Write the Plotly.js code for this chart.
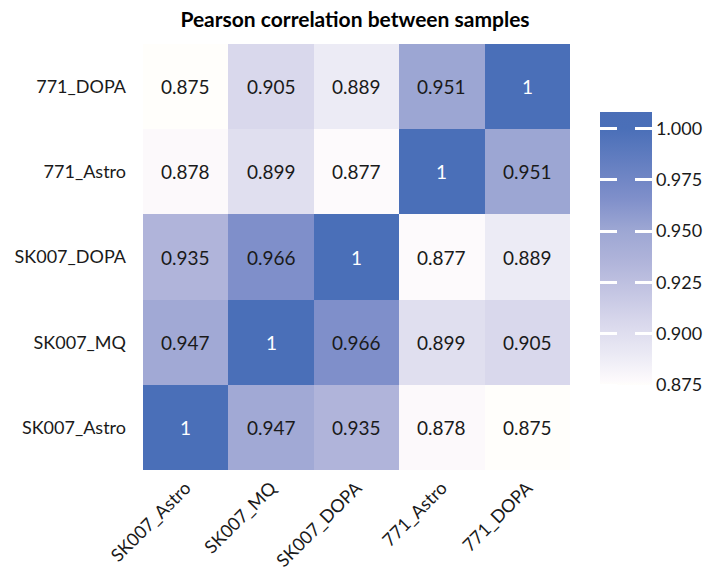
<!DOCTYPE html>
<html><head><meta charset="utf-8">
<script src="https://cdn.plot.ly/plotly-3.0.1.min.js"></script>
<style>body{margin:0;background:#fff}</style>
</head><body><div id="chart" style="width:710px;height:571px"></div>
<script>
const xLabels = ["SK007_Astro","SK007_MQ","SK007_DOPA","771_Astro","771_DOPA"];
const yLabels = ["SK007_Astro","SK007_MQ","SK007_DOPA","771_Astro","771_DOPA"];
const rowSK007_Astro = [1, 0.947, 0.935, 0.878, 0.875];
const rowSK007_MQ    = [0.947, 1, 0.966, 0.899, 0.905];
const rowSK007_DOPA  = [0.935, 0.966, 1, 0.877, 0.889];
const row771_Astro   = [0.878, 0.899, 0.877, 1, 0.951];
const row771_DOPA    = [0.875, 0.905, 0.889, 0.951, 1];
const colorTicks = [0.875, 0.9, 0.925, 0.95, 0.975, 1.0];

const z = [rowSK007_Astro, rowSK007_MQ, rowSK007_DOPA, row771_Astro, row771_DOPA];
const FONT = "Lato, 'Source Sans Pro', 'Noto Sans', sans-serif";
const zmin = 0.875, zmax = 1.008;
const colorscale = [
  [0, '#fffefb'], [0.015, '#fdfafc'], [0.105, '#ecebf5'], [0.226, '#d9d8ec'],
  [0.451, '#b0b4da'], [0.571, '#9ca6d3'], [0.684, '#7f8fca'], [0.94, '#4a6fb8'], [1, '#4a6eb7']
];

const annotations = [];
z.forEach((row, i) => row.forEach((v, j) => {
  annotations.push({x: xLabels[j], y: yLabels[i], text: String(v), showarrow: false,
    font: {family: FONT, size: 19, color: v >= 0.99 ? '#ffffff' : '#1a1a1a'}});
}));

const cbx = (600 - 143) / 427;
const cby = (470 - 248.5) / 426;
const traces = [
  {type: 'heatmap', x: xLabels, y: yLabels, z: z, zmin: zmin, zmax: zmax,
   colorscale: colorscale, xgap: 0, ygap: 0, hoverinfo: 'skip',
   colorbar: {x: cbx, xanchor: 'left', xpad: 0, y: cby, yanchor: 'middle', ypad: 0,
     thickness: 52, thicknessmode: 'pixels', len: 273, lenmode: 'pixels',
     outlinewidth: 0, tickvals: colorTicks, tickformat: '.3f',
     ticks: 'inside', ticklen: 17, tickwidth: 3, tickcolor: '#ffffff',
     tickfont: {family: FONT, size: 18, color: '#1a1a1a'}}},
  {type: 'heatmap', x: xLabels, y: yLabels, z: z, zmin: zmin, zmax: zmax,
   colorscale: colorscale, opacity: 0, hoverinfo: 'skip',
   colorbar: {x: cbx, xanchor: 'left', xpad: 0, y: cby, yanchor: 'middle', ypad: 0,
     thickness: 0, thicknessmode: 'pixels', len: 273, lenmode: 'pixels',
     outlinewidth: 0, tickvals: colorTicks, showticklabels: false,
     ticks: 'outside', ticklen: 17, tickwidth: 3, tickcolor: '#ffffff'}}
];

const layout = {
  width: 710, height: 571,
  margin: {l: 143, r: 140, t: 44, b: 101, autoexpand: false},
  paper_bgcolor: '#ffffff', plot_bgcolor: '#ffffff',
  font: {family: FONT, size: 18, color: '#1a1a1a'},
  title: {text: '<b>Pearson correlation between samples</b>', x: 0.5, xanchor: 'center',
    y: 1 - 20 / 571, yanchor: 'middle', yref: 'container',
    font: {family: FONT, size: 21, color: '#000000'}},
  xaxis: {type: 'category', tickangle: -45, ticks: '', showgrid: false, zeroline: false,
    showline: false, ticklabelstandoff: 3, tickfont: {family: FONT, size: 18}, automargin: false},
  yaxis: {type: 'category', ticks: '', showgrid: false, zeroline: false, showline: false,
    ticklabelstandoff: 16, tickfont: {family: FONT, size: 18}, automargin: false},
  annotations: annotations
};
Plotly.newPlot('chart', traces, layout, {displayModeBar: false, staticPlot: true});
</script></body></html>
